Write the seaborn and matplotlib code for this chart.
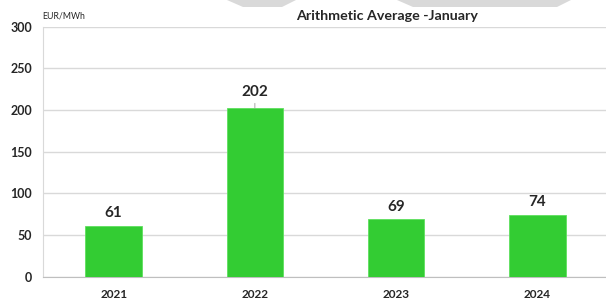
import matplotlib
matplotlib.use("Agg")
import matplotlib.pyplot as plt
import seaborn as sns
import pandas as pd
from matplotlib.patches import Polygon

### data
years = ["2021", "2022", "2023", "2024"]
values = [61, 202, 69, 74]
yticks = [0, 50, 100, 150, 200, 250, 300]

df = pd.DataFrame({"year": years, "value": values})

sns.set_style("white")
plt.rcParams["font.family"] = ["Lato", "DejaVu Sans"]

fig = plt.figure(figsize=(6.06, 3.0), dpi=100)
ax = fig.add_axes([43 / 606, 1 - 276.7 / 300, 1 - 43 / 606, (276.7 - 26.7) / 300])

sns.barplot(data=df, x="year", y="value", color="#33cc33", width=0.4,
            saturation=1, edgecolor="#5ee05e", linewidth=0.6, ax=ax, zorder=3)

### value labels
for i, v in enumerate(values):
    if v == 202:
        ax.annotate(str(v), xy=(i, v), xytext=(0, 7), textcoords="offset points",
                    ha="center", va="bottom", fontsize=11, fontweight="bold",
                    arrowprops=dict(arrowstyle="-", color="#999999", lw=0.6,
                                    shrinkA=1, shrinkB=0))
    else:
        ax.annotate(str(v), xy=(i, v), xytext=(0, 4), textcoords="offset points",
                    ha="center", va="bottom", fontsize=11, fontweight="bold")

ax.set_ylim(0, 300)
ax.set_yticks(yticks)
ax.set_xlim(-0.5, 3.5 - 2 / 141)
ax.yaxis.grid(True, color="#d9d9d9", lw=1, zorder=0)
ax.set_axisbelow(True)

ax.set_xlabel("")
ax.set_ylabel("")
ax.set_xticks(range(len(years)))
ax.set_xticks([-0.5, 0.5, 1.5, 2.5], minor=True)
ax.tick_params(axis="x", which="major", length=0, pad=9, labelsize=8.5)
ax.tick_params(axis="x", which="minor", length=4, color="#bfbfbf", width=1)
ax.tick_params(axis="y", length=0, pad=8, labelsize=9)
for lab in ax.get_xticklabels() + ax.get_yticklabels():
    lab.set_fontweight("bold")

for s in ["top", "right"]:
    ax.spines[s].set_visible(False)
ax.spines["left"].set_color("#d9d9d9")
ax.spines["bottom"].set_color("#bfbfbf")

fig.text(387 / 606, 1 - 16 / 300, "Arithmetic Average -January", ha="center",
         va="center", fontsize=10.3, fontweight="bold")
fig.text(42 / 606, 1 - 16 / 300, "EUR/MWh", ha="left", va="center", fontsize=6.3)

### grey watermark pieces at the top edge
def px(pts):
    return [(x / 606, 1 - y / 300) for x, y in pts]

fig.patches.append(Polygon(px([(227, 0), (296, 0), (282, 7), (243, 7)]),
                           closed=True, transform=fig.transFigure,
                           facecolor="#d9d9d9", edgecolor="none"))
fig.patches.append(Polygon(px([(397, 0), (571, 0), (557, 7), (413, 7)]),
                           closed=True, transform=fig.transFigure,
                           facecolor="#d9d9d9", edgecolor="none"))

fig.savefig("out.png", dpi=100)
